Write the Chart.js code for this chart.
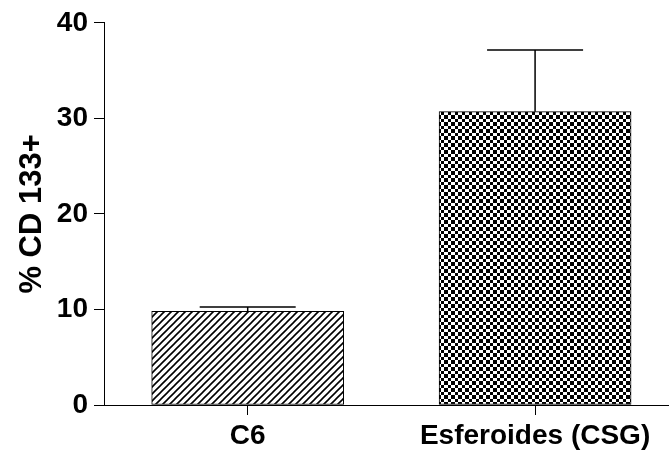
<!DOCTYPE html>
<html>
<head>
<meta charset="utf-8">
<script src="https://cdn.jsdelivr.net/npm/chart.js@4.4.1/dist/chart.umd.min.js"></script>
<style>
  html, body { margin: 0; padding: 0; background: #fff; }
  #wrap { width: 669px; height: 453px; }
</style>
</head>
<body>
<div id="wrap"><canvas id="c" width="669" height="453"></canvas></div>
<script>
// Groups and measured values
const categories = ['C6', 'Esferoides (CSG)'];
const positions = [1, 2];
const meanValues = [9.8, 30.7];
const errorValues = [0.45, 6.45];
const yTicks = [0, 10, 20, 30, 40];

const FONT = '"Liberation Sans", Arial, Helvetica, sans-serif';

// Fill patterns: diagonal hatching and a fine checkerboard
function hatchPattern() {
  const s = 7;
  const cv = document.createElement('canvas');
  cv.width = s; cv.height = s;
  const g = cv.getContext('2d');
  g.fillStyle = '#fff';
  g.fillRect(0, 0, s, s);
  g.strokeStyle = '#000';
  g.lineWidth = 1.6;
  g.beginPath();
  g.moveTo(-1, s + 1); g.lineTo(s + 1, -1);
  g.moveTo(-1, 1); g.lineTo(1, -1);
  g.moveTo(s - 1, s + 1); g.lineTo(s + 1, s - 1);
  g.stroke();
  return g.createPattern(cv, 'repeat');
}
function checkerPattern() {
  const edges = [0, 3, 7, 10, 14];
  const cv = document.createElement('canvas');
  cv.width = 14; cv.height = 14;
  const g = cv.getContext('2d');
  g.fillStyle = '#fff';
  g.fillRect(0, 0, 14, 14);
  g.fillStyle = '#000';
  for (let i = 0; i < 4; i++) {
    for (let j = 0; j < 4; j++) {
      if ((i + j) % 2 === 0) {
        g.fillRect(edges[i], edges[j], edges[i + 1] - edges[i], edges[j + 1] - edges[j]);
      }
    }
  }
  return g.createPattern(cv, 'repeat');
}

// Upward error bars with caps
const errorBars = {
  id: 'errorBars',
  afterDatasetsDraw(chart) {
    const ctx = chart.ctx;
    const meta = chart.getDatasetMeta(0);
    const ys = chart.scales.y;
    ctx.save();
    ctx.strokeStyle = '#000';
    ctx.lineWidth = 1.5;
    meta.data.forEach((bar, i) => {
      const x = bar.x;
      const yTop = ys.getPixelForValue(meanValues[i] + errorValues[i]);
      const yMean = ys.getPixelForValue(meanValues[i]);
      const half = bar.width / 4;
      ctx.beginPath();
      ctx.moveTo(x, yMean);
      ctx.lineTo(x, yTop);
      ctx.moveTo(x - half, yTop);
      ctx.lineTo(x + half, yTop);
      ctx.stroke();
    });
    ctx.restore();
  }
};

new Chart(document.getElementById('c'), {
  type: 'bar',
  data: {
    datasets: [{
      data: positions.map((p, i) => ({ x: p, y: meanValues[i] })),
      backgroundColor: [hatchPattern(), checkerPattern()],
      borderColor: '#000',
      borderWidth: 1,
      borderSkipped: false,
      barThickness: 192
    }]
  },
  options: {
    responsive: false,
    animation: false,
    layout: { padding: { top: 21, right: 0, left: 0, bottom: 0 } },
    plugins: { legend: { display: false }, tooltip: { enabled: false } },
    scales: {
      x: {
        type: 'linear',
        min: 0.5,
        max: 2.466,
        bounds: 'data',
        offset: false,
        afterBuildTicks: s => { s.ticks = positions.map(v => ({ value: v })); },
        afterFit: s => { s.height = 48; },
        grid: { offset: false, drawOnChartArea: false, drawTicks: true, tickLength: 10, color: '#000', lineWidth: 1 },
        border: { display: true, color: '#000', width: 1 },
        ticks: {
          autoSkip: false,
          maxRotation: 0,
          padding: 4,
          color: '#000',
          font: { family: FONT, size: 28, weight: 'bold' },
          callback: v => categories[positions.indexOf(v)]
        }
      },
      y: {
        min: 0,
        max: 40,
        afterBuildTicks: s => { s.ticks = yTicks.map(v => ({ value: v })); },
        afterFit: s => { s.width = 104; },
        grid: { drawOnChartArea: false, drawTicks: true, tickLength: 10, color: '#000', lineWidth: 1 },
        border: { display: true, color: '#000', width: 1 },
        ticks: {
          padding: 6,
          color: '#000',
          font: { family: FONT, size: 28, weight: 'bold' }
        },
        title: {
          display: true,
          text: '% CD 133+',
          color: '#000',
          padding: { top: 14, bottom: 0 },
          font: { family: FONT, size: 31, weight: 'bold' }
        }
      }
    }
  },
  plugins: [errorBars]
});
</script>
</body>
</html>
